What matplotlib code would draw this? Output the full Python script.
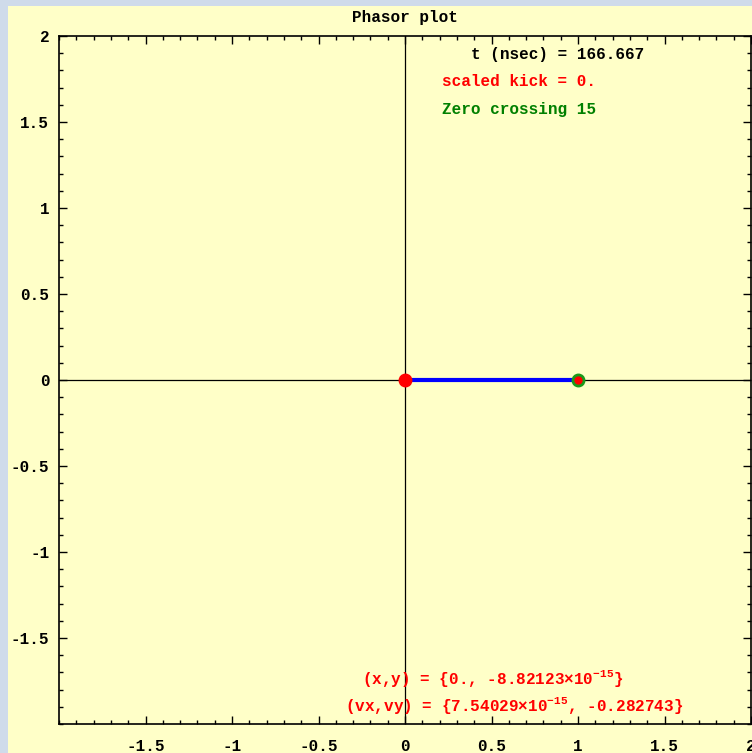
import numpy as np
import matplotlib
matplotlib.use("Agg")
from matplotlib import pyplot as plt
from matplotlib.patches import Rectangle
from matplotlib.ticker import MultipleLocator

plt.rcParams['axes.unicode_minus'] = False
plt.rcParams['mathtext.fontset'] = 'custom'
plt.rcParams['mathtext.rm'] = 'Liberation Mono:bold'
plt.rcParams['mathtext.it'] = 'Liberation Mono:bold'
plt.rcParams['mathtext.bf'] = 'Liberation Mono:bold'

# phasor state
origin = [0.0, 0.0]
tip = [1.0, 0.0]
t_nsec = "166.667"
kick = "0."
zero_crossing = 15
xy_text = "{0., -8.82123\u00d710$^{-15}$}"
vxvy_text = "{7.54029\u00d710$^{-15}$, -0.282743}"

xticks = [-1.5, -1, -0.5, 0, 0.5, 1, 1.5, 2]
yticks = [-1.5, -1, -0.5, 0, 0.5, 1, 1.5, 2]

yellow = '#ffffc8'
font = dict(family='Liberation Mono', weight='bold', size=11.5)

fig = plt.figure(figsize=(7.52, 7.53), dpi=100)
fig.patch.set_facecolor('#cfdbea')
fig.patches.append(Rectangle((8/752, 0), 1, 1 - 6/753, transform=fig.transFigure,
                             facecolor=yellow, edgecolor='none', zorder=-10))

ax = fig.add_axes([59/752, 29/753, 692/752, 688/753])
ax.set_facecolor(yellow)
ax.set_xlim(-2, 2)
ax.set_ylim(-2, 2)

ax.axhline(0, color='black', lw=0.9, zorder=1)
ax.axvline(0, color='black', lw=0.9, zorder=1)

ax.plot([origin[0], tip[0]], [origin[1], tip[1]], color='#0000ff', lw=3, zorder=3)
ax.plot(origin[0], origin[1], 'o', color='#ff0000', ms=9, mec='#ff0000', zorder=4)
ax.plot(tip[0], tip[1], 'o', color='#ff0000', ms=8, mec='#1a9a1a', mew=2, zorder=4)

ax.set_xticks(xticks)
ax.set_yticks(yticks)
ax.set_xticklabels(['%g' % v for v in xticks])
ax.set_yticklabels(['%g' % v for v in yticks])
ax.xaxis.set_minor_locator(MultipleLocator(0.1))
ax.yaxis.set_minor_locator(MultipleLocator(0.1))
ax.tick_params(which='both', direction='in', top=True, right=True, width=1)
ax.tick_params(which='major', length=6)
ax.tick_params(axis='x', which='major', pad=11)
ax.tick_params(axis='y', which='major', pad=7)
ax.tick_params(which='minor', length=3)
for lab in ax.get_xticklabels() + ax.get_yticklabels():
    lab.set_fontfamily('Liberation Mono')
    lab.set_fontweight('bold')
    lab.set_fontsize(11.5)
for s in ax.spines.values():
    s.set_linewidth(1.2)

ax.set_title('Phasor plot', pad=10, **font)

ax.text(0.38, 1.895, 't (nsec) = ' + t_nsec, color='black', va='center', **font)
ax.text(0.214, 1.733, 'scaled kick = ' + kick, color='#ff0000', va='center', **font)
ax.text(0.214, 1.57, 'Zero crossing %d' % zero_crossing, color='#008000', va='center', **font)
ax.text(-0.249, -1.733, '(x,y) = ' + xy_text, color='#ff0000', va='center', **font)
ax.text(-0.347, -1.895, '(vx,vy) = ' + vxvy_text, color='#ff0000', va='center', **font)

plt.savefig('out.png', dpi=100)
